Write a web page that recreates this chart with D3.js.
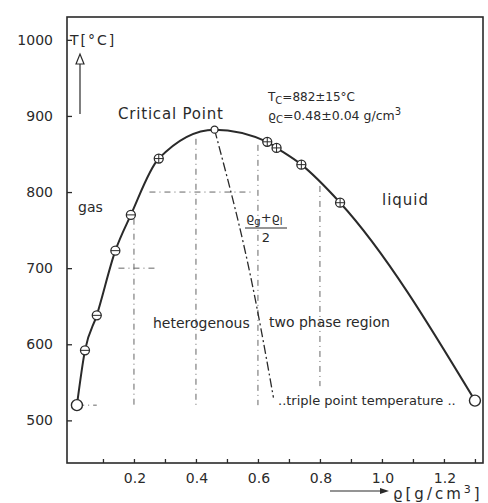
<!DOCTYPE html>
<html>
<head>
<meta charset="utf-8">
<style>
  body { margin:0; background:#fff; }
  text { font-family:"DejaVu Sans", sans-serif; fill:#2a2a2a; }
</style>
</head>
<body>
<svg id="plot"></svg>
<script src="https://d3js.org/d3.v7.min.js"></script>
<script>

// coexistence curve, gas branch (density g/cm3, temperature C)
var gasRho = [0.016, 0.042, 0.08, 0.14, 0.19, 0.28];
var gasT   = [520, 592, 638, 723, 770, 844];

// critical point
var critRho = 0.46;
var critT   = 882;

// liquid branch
var liqRho = [0.63, 0.66, 0.74, 0.865, 1.30];
var liqT   = [866, 858, 836, 786, 526];

// rectilinear diameter (rho_g + rho_l)/2
var diamRho = [0.46, 0.55, 0.65];
var diamT   = [882, 738, 530];

// dash-dot guide lines
var guideRho    = [0.2, 0.4, 0.6, 0.8];
var guideTop    = [765, 870, 862, 808];
var guideBottom = [520, 520, 520, 545];
var hGuideT     = [800, 700, 520];
var hGuideFrom  = [0.25, 0.15, 0.02];
var hGuideTo    = [0.58, 0.27, 0.08];

var yTicks = [500, 600, 700, 800, 900, 1000];
var xTickLabels = [0.2, 0.4, 0.6, 0.8, 1.0, 1.2];
var xMinor = [0.1, 0.2, 0.3, 0.4, 0.5, 0.6, 0.7, 0.8, 0.9, 1.0, 1.1, 1.2, 1.3];

var screen = {width:488, height:503};
var frame = {left:67, right:483, top:17, bottom:463};

var svg = d3.select("#plot")
    .attr("width", screen.width)
    .attr("height", screen.height);

var xScale = d3.scaleLinear()
    .domain([-0.016, 1.326])
    .range([frame.left, frame.right]);

var yScale = d3.scaleLinear()
    .domain([444, 1030])
    .range([frame.bottom, frame.top]);

var ink = "#2a2a2a";

// frame
svg.append("rect")
    .attr("x", frame.left)
    .attr("y", frame.top)
    .attr("width", frame.right - frame.left)
    .attr("height", frame.bottom - frame.top)
    .attr("fill", "none")
    .attr("stroke", ink)
    .attr("stroke-width", 1.6);

// y axis
var yAxis = d3.axisRight(yScale)
    .tickValues(yTicks)
    .tickSize(5)
    .tickFormat("");
var gy = svg.append("g")
    .attr("transform", "translate(" + frame.left + ",0)")
    .call(yAxis);
gy.select(".domain").remove();
gy.selectAll("line").attr("stroke", ink).attr("stroke-width", 1.3);

svg.append("g").selectAll("text")
    .data(yTicks)
    .enter()
    .append("text")
    .attr("x", 53)
    .attr("y", function(d) { return yScale(d) + 5; })
    .attr("text-anchor", "end")
    .style("font-size", "14px")
    .text(function(d) { return d; });

// x axis
var xAxis = d3.axisTop(xScale)
    .tickValues(xMinor)
    .tickSize(4)
    .tickFormat("");
var gx = svg.append("g")
    .attr("transform", "translate(0," + frame.bottom + ")")
    .call(xAxis);
gx.select(".domain").remove();
gx.selectAll("line").attr("stroke", ink).attr("stroke-width", 1.3);

svg.append("g").selectAll("text")
    .data(xTickLabels)
    .enter()
    .append("text")
    .attr("x", function(d) { return xScale(d) + 1; })
    .attr("y", 483)
    .attr("text-anchor", "middle")
    .style("font-size", "14px")
    .text(function(d) { return d.toFixed(1); });

// guide lines
var guides = svg.append("g")
    .attr("stroke", "#666")
    .attr("stroke-width", 1)
    .attr("stroke-dasharray", "6,4,1,4");

guides.selectAll(".v")
    .data(guideRho)
    .enter()
    .append("line")
    .attr("x1", function(d) { return xScale(d); })
    .attr("x2", function(d) { return xScale(d); })
    .attr("y1", function(d, i) { return yScale(guideTop[i]); })
    .attr("y2", function(d, i) { return yScale(guideBottom[i]); });

guides.selectAll(".h")
    .data(hGuideT)
    .enter()
    .append("line")
    .attr("y1", function(d) { return yScale(d); })
    .attr("y2", function(d) { return yScale(d); })
    .attr("x1", function(d, i) { return xScale(hGuideFrom[i]); })
    .attr("x2", function(d, i) { return xScale(hGuideTo[i]); });

// rectilinear diameter
var diam = diamRho.map(function(d, i) { return [d, diamT[i]]; });
svg.append("path")
    .datum(diam)
    .attr("fill", "none")
    .attr("stroke", ink)
    .attr("stroke-width", 1.3)
    .attr("stroke-dasharray", "9,3,2,3")
    .attr("d", d3.line()
        .x(function(d) { return xScale(d[0]); })
        .y(function(d) { return yScale(d[1]); })
        .curve(d3.curveMonotoneY));

// coexistence curve
var curve = gasRho.map(function(d, i) { return [d, gasT[i]]; })
    .concat([[critRho, critT]])
    .concat(liqRho.map(function(d, i) { return [d, liqT[i]]; }));

svg.append("path")
    .datum(curve)
    .attr("fill", "none")
    .attr("stroke", ink)
    .attr("stroke-width", 2)
    .attr("d", d3.line()
        .x(function(d) { return xScale(d[0]); })
        .y(function(d) { return yScale(d[1]); })
        .curve(d3.curveMonotoneX));

// markers
var marked = curve.filter(function(d, i) {
    return i > 0 && i < curve.length - 1 && d[0] != critRho;
});
var mk = svg.append("g").selectAll("g")
    .data(marked)
    .enter()
    .append("g")
    .attr("transform", function(d) {
        return "translate(" + xScale(d[0]) + "," + yScale(d[1]) + ")";
    });
mk.append("circle")
    .attr("r", 4.5)
    .attr("fill", "#fff")
    .attr("stroke", ink)
    .attr("stroke-width", 1.3);
mk.append("line")
    .attr("x1", -4.5).attr("x2", 4.5)
    .attr("stroke", ink).attr("stroke-width", 1);
mk.filter(function(d) { return d[0] > 0.25; })
    .append("line")
    .attr("y1", -4.5).attr("y2", 4.5)
    .attr("stroke", ink).attr("stroke-width", 1);

// end points and critical point
svg.append("g").selectAll("circle")
    .data([curve[0], curve[curve.length - 1]])
    .enter()
    .append("circle")
    .attr("cx", function(d) { return xScale(d[0]); })
    .attr("cy", function(d) { return yScale(d[1]); })
    .attr("r", 5.5)
    .attr("fill", "#fff")
    .attr("stroke", ink)
    .attr("stroke-width", 1.4);

svg.append("circle")
    .attr("cx", xScale(critRho))
    .attr("cy", yScale(critT))
    .attr("r", 3.5)
    .attr("fill", "#fff")
    .attr("stroke", ink)
    .attr("stroke-width", 1.3);

// axis titles
svg.append("text")
    .attr("x", 70).attr("y", 45)
    .style("font-size", "14px")
    .style("letter-spacing", "2px")
    .text("T[°C]");

svg.append("line")
    .attr("x1", 80).attr("x2", 80)
    .attr("y1", 114).attr("y2", 62)
    .attr("stroke", ink).attr("stroke-width", 1.2);
svg.append("path")
    .attr("d", "M76,64 L80,54 L84,64 Z")
    .attr("fill", "#fff").attr("stroke", ink).attr("stroke-width", 1.2);

svg.append("line")
    .attr("x1", 330).attr("x2", 382)
    .attr("y1", 491).attr("y2", 491)
    .attr("stroke", ink).attr("stroke-width", 1.2);
svg.append("path")
    .attr("d", "M380,488 L389,491 L380,494 Z")
    .attr("fill", ink);

var xl = svg.append("text")
    .attr("x", 393).attr("y", 499)
    .style("font-size", "15px")
    .style("letter-spacing", "3px");
xl.append("tspan").text("ϱ[g/cm");
xl.append("tspan").attr("dy", -6).style("font-size", "11px").text("3");
xl.append("tspan").attr("dy", 6).text("]");

// annotations
var labels = svg.append("g");

labels.append("text")
    .attr("x", 118).attr("y", 119)
    .style("font-size", "15px")
    .style("letter-spacing", "0.8px")
    .text("Critical  Point");

var tc = labels.append("text")
    .attr("x", 268).attr("y", 101)
    .style("font-size", "12px");
tc.append("tspan").text("T");
tc.append("tspan").attr("dy", 3).style("font-size", "10px").text("C");
tc.append("tspan").attr("dy", -3).text("=882±15°C");

var rc = labels.append("text")
    .attr("x", 268).attr("y", 120)
    .style("font-size", "12.5px");
rc.append("tspan").text("ϱ");
rc.append("tspan").attr("dy", 3).style("font-size", "10px").text("C");
rc.append("tspan").attr("dy", -3).text("=0.48±0.04 g/cm");
rc.append("tspan").attr("dy", -5).style("font-size", "10px").text("3");

labels.append("text")
    .attr("x", 78).attr("y", 212)
    .style("font-size", "14px")
    .text("gas");

labels.append("text")
    .attr("x", 382).attr("y", 205)
    .style("font-size", "15px")
    .style("letter-spacing", "1px")
    .text("liquid");

labels.append("text")
    .attr("x", 153).attr("y", 328)
    .style("font-size", "14px")
    .text("heterogenous");

labels.append("text")
    .attr("x", 269).attr("y", 327)
    .style("font-size", "14px")
    .text("two  phase region");

labels.append("text")
    .attr("x", 278).attr("y", 405)
    .style("font-size", "13px")
    .text("..triple point temperature ..");

var fr = labels.append("text")
    .attr("x", 246).attr("y", 222)
    .style("font-size", "13px");
fr.append("tspan").text("ϱ");
fr.append("tspan").attr("dy", 3).style("font-size", "10px").text("g");
fr.append("tspan").attr("dy", -3).text("+ϱ");
fr.append("tspan").attr("dy", 3).style("font-size", "10px").text("l");

labels.append("line")
    .attr("x1", 245).attr("x2", 287)
    .attr("y1", 228).attr("y2", 228)
    .attr("stroke", ink).attr("stroke-width", 1.2);

labels.append("text")
    .attr("x", 266).attr("y", 242)
    .attr("text-anchor", "middle")
    .style("font-size", "13px")
    .text("2");

</script>
</body>
</html>
